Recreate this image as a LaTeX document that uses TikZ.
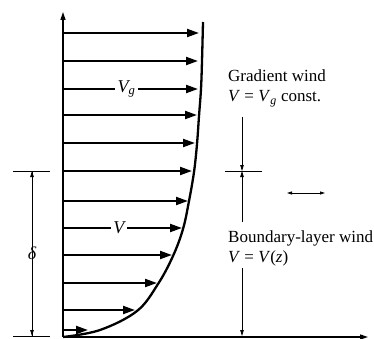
\documentclass[tikz,border=0pt]{standalone}
\usepackage{fontspec}
\setmainfont{Liberation Serif}
\usetikzlibrary{arrows.meta,positioning,calc}

\tikzset{
  axis/.style={line width=1.4pt,-{Triangle[length=8pt,width=5pt]}},
  wind/.style={line width=2.1pt,-{Triangle[length=12pt,width=8pt]}},
  profile/.style={line width=2.3pt},
  dim/.style={line width=0.8pt},
  dimtip/.style={dim,-{Triangle[length=6pt,width=3.5pt]}},
  lbl/.style={fill=white,inner sep=2.5pt,font=\fontsize{18}{20}\selectfont\itshape},
  txt/.style={inner sep=0pt,anchor=north west,align=left,font=\fontsize{17}{20}\selectfont}
}

\begin{document}
\begin{tikzpicture}[x=1pt,y=-1pt]
  \useasboundingbox (0,0) rectangle (374,339);
  \coordinate (O) at (63,337);
  \coordinate (ztop) at (63,12);
  \coordinate (xend) at (368,337);

  % wind vectors
  \foreach \y/\t [count=\i] in {33/199,61/198,115/197,143/195,171/192,
                                201/188,255/172,283/157,310/135,330/88}{
    \coordinate (w\i) at (63,\y);
    \coordinate (h\i) at (\t,\y);
    \draw[wind] (w\i) -- (h\i);
  }
  \coordinate (wg) at (63,89);   \coordinate (hg) at (198,89);
  \coordinate (wv) at (63,228);  \coordinate (hv) at (182,228);
  \draw[wind] (wg) -- node[lbl,pos=0.47] (Vg) {V\textsubscript{g}} (hg);
  \draw[wind] (wv) -- node[lbl,pos=0.47] (Vz) {V} (hv);

  % the profile
  \draw[profile] plot[smooth,tension=0.6] coordinates {
    (63,337) (100,330) (137,311) (158,284) (173,256) (183,229) (189,201)
    (194,172) (197,144) (199,116) (201,89) (202,61) (203,22)};

  % axes
  \draw[axis] (O) -- (ztop);
  \draw[axis] (O) -- (xend);

  % boundary layer thickness
  \coordinate (d1) at (32,171);
  \coordinate (d0) at (32,336);
  \draw[dim] (13,171) -- (50,171);
  \draw[dim] (13,336) -- (50,336);
  \draw[dimtip] (d0) -- node[lbl,inner sep=3pt] (delta) {δ} (d1);
  \draw[dimtip] (d1) -- (d0);

  % right side
  \node[txt] (grad) at (228,70) {Gradient wind\\\textit{V} = \textit{V}\textsubscript{\textit{g}} const.};
  \node[txt] (bound) at (228,231) {Boundary-layer wind\\\textit{V} = \textit{V}(\textit{z})};
  \coordinate (r0) at (242,117);
  \coordinate (r1) at (242,171);
  \coordinate (r2) at (242,222);
  \coordinate (r3) at (242,268);
  \coordinate (r4) at (242,336);
  \draw[dim] (225,171) -- (262,171);
  \draw[dimtip] (r0) -- (r1);
  \draw[dimtip] (r2) -- (r1);
  \draw[dimtip] (r3) -- (r4);

  \coordinate (s0) at (287,193);
  \coordinate (s1) at (325,193);
  \draw[dim,{Triangle[length=5pt,width=3pt]}-{Triangle[length=5pt,width=3pt]}] (s0) -- (s1);
\end{tikzpicture}
\end{document}
